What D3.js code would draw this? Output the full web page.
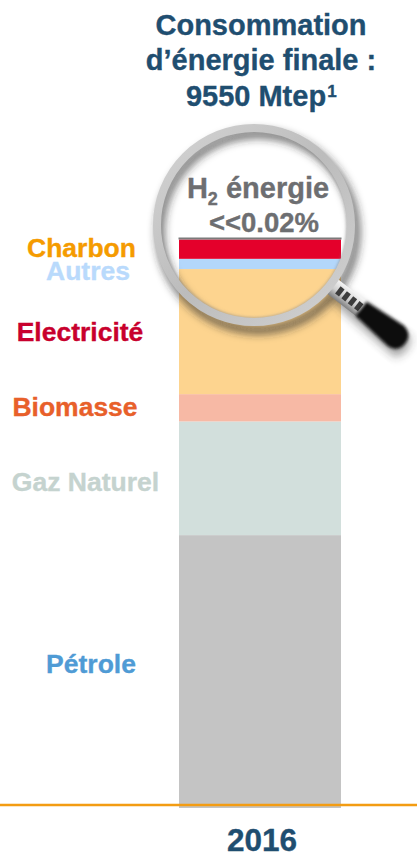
<!DOCTYPE html>
<html>
<head>
<meta charset="utf-8">
<script src="https://cdnjs.cloudflare.com/ajax/libs/d3/7.8.5/d3.min.js"></script>
<style>
  html, body { margin: 0; padding: 0; background: #fff; }
  text { font-family: "Liberation Sans", Arial, sans-serif; font-weight: bold; stroke-width: 0.35px; }
</style>
</head>
<body>
<div id="chart"></div>
<script>
// data (share of final energy, %)
var years = ["2016"];
var sources = ["Pétrole", "Gaz Naturel", "Biomasse", "Charbon", "Autres", "Electricité"];
var shares = [48, 20, 4.8, 22, 1.8, 3.4];
var titleLines = ["Consommation", "d’énergie finale :", "9550 Mtep"];

// fill of each slice and colour of its label
var barColors = ["#c4c4c4", "#d2dfdc", "#f7b9a5", "#fdd48f", "#b3d7fb", "#e4002b"];
var labelColors = ["#4f9bd5", "#c5d3cf", "#e8602a", "#f59b00", "#b9dafc", "#c8002d"];
// labels are placed by hand in the original, they do not follow the slices
var labelX = [91, 85.5, 75, 81.5, 88, 80];
var labelY = [673, 491, 416, 257, 280, 341];

var width = 417, height = 854;

var svg = d3.select("#chart")
  .append("svg")
    .attr("width", width)
    .attr("height", height)
    .style("display", "block");

var defs = svg.append("defs");

var x = d3.scaleBand().domain(years).range([179, 341]);
var y = d3.scaleLinear().domain([0, 100]).range([808, 239.5]);

// stack the slices
var row = {year: years[0]};
sources.forEach(function(s, i) { row[s] = shares[i]; });
var series = d3.stack().keys(sources)([row]);

svg.append("g")
  .selectAll("rect")
  .data(series)
  .enter()
  .append("rect")
    .attr("x", x(years[0]))
    .attr("width", x.bandwidth())
    .attr("y", function(d) { return y(d[0][1]); })
    .attr("height", function(d) { return y(d[0][0]) - y(d[0][1]); })
    .attr("fill", function(d, i) { return barColors[i]; });

// H2 is the thin grey cap on top of the stack
svg.append("line")
  .attr("x1", x(years[0]) - 0.5)
  .attr("x2", x(years[0]) + x.bandwidth() + 0.5)
  .attr("y1", y(100) - 1)
  .attr("y2", y(100) - 1)
  .attr("stroke", "#7b7b7b")
  .attr("stroke-width", 2);

// baseline
svg.append("line")
  .attr("x1", 0)
  .attr("x2", width)
  .attr("y1", 805)
  .attr("y2", 805)
  .attr("stroke", "#f39c12")
  .attr("stroke-width", 2.4);

// year label through the axis
var axis = svg.append("g")
  .attr("transform", "translate(2,820)")
  .call(d3.axisBottom(x).tickSize(0).tickPadding(0));
axis.select(".domain").remove();
axis.selectAll("text")
  .attr("dy", null)
  .attr("y", 31)
  .attr("fill", "#1f4e70")
  .attr("stroke", "#1f4e70")
  .style("font-family", '"Liberation Sans", Arial, sans-serif')
  .style("font-size", "31.5px");

// title
var title = svg.append("g")
  .attr("fill", "#1f4e70")
  .attr("stroke", "#1f4e70")
  .attr("text-anchor", "middle")
  .style("font-size", "29px");
title.selectAll("text")
  .data(titleLines)
  .enter()
  .append("text")
    .attr("x", function(d, i) { return i == 2 ? 256 : 261; })
    .attr("y", function(d, i) { return [35, 70, 106][i]; })
    .text(function(d) { return d; });
title.append("text")
  .attr("x", 332)
  .attr("y", 97)
  .style("font-size", "17px")
  .text("1");

// source labels
svg.append("g")
  .selectAll("text")
  .data(sources)
  .enter()
  .append("text")
    .attr("x", function(d, i) { return labelX[i]; })
    .attr("y", function(d, i) { return labelY[i]; })
    .attr("text-anchor", "middle")
    .attr("fill", function(d, i) { return labelColors[i]; })
    .attr("stroke", function(d, i) { return labelColors[i]; })
    .style("font-size", "26.5px")
    .text(function(d) { return d; });

// magnifying glass
var blur = defs.append("filter").attr("id", "shadow")
  .attr("x", "-30%").attr("y", "-30%").attr("width", "160%").attr("height", "160%");
blur.append("feGaussianBlur").attr("stdDeviation", 4);
var soft = defs.append("filter").attr("id", "soft")
  .attr("x", "-10%").attr("y", "-10%").attr("width", "120%").attr("height", "120%");
soft.append("feGaussianBlur").attr("stdDeviation", 1.8);
var blurGrip = defs.append("filter").attr("id", "gripBlur")
  .attr("x", "-30%").attr("y", "-60%").attr("width", "160%").attr("height", "220%");
blurGrip.append("feGaussianBlur").attr("stdDeviation", 1.8);

var ringGrad = defs.append("linearGradient").attr("id", "ring")
  .attr("x1", 0).attr("y1", 0).attr("x2", 1).attr("y2", 1);
ringGrad.append("stop").attr("offset", "0%").attr("stop-color", "#d4d4d4");
ringGrad.append("stop").attr("offset", "50%").attr("stop-color", "#bcbcbc");
ringGrad.append("stop").attr("offset", "100%").attr("stop-color", "#d2d2d2");

var metalGrad = defs.append("linearGradient").attr("id", "metal")
  .attr("x1", 0).attr("y1", 0).attr("x2", 0).attr("y2", 1);
metalGrad.append("stop").attr("offset", "0%").attr("stop-color", "#f4f4f4");
metalGrad.append("stop").attr("offset", "55%").attr("stop-color", "#cfcfcf");
metalGrad.append("stop").attr("offset", "100%").attr("stop-color", "#808080");

var lensX = 254, lensY = 225, lensR = 97;

var lens = svg.append("g");

// soft shadow of the ring and handle, falls to the lower right
lens.append("circle")
  .attr("cx", lensX + 4).attr("cy", lensY + 7).attr("r", lensR + 1)
  .attr("fill", "none")
  .attr("stroke", "#2a2a2a")
  .attr("stroke-opacity", 0.7)
  .attr("stroke-width", 8)
  .attr("filter", "url(#shadow)");
lens.append("path")
  .attr("transform", "translate(" + (lensX + 3) + "," + (lensY + 8) + ") rotate(38)")
  .attr("d", "M100,-8 L185,-13 Q195,0 185,13 L100,8 Z")
  .attr("fill", "#333")
  .attr("fill-opacity", 0.45)
  .attr("filter", "url(#shadow)");

var handle = lens.append("g")
  .attr("transform", "translate(" + lensX + "," + lensY + ") rotate(38)");
handle.append("rect")
  .attr("x", 100).attr("y", -9).attr("width", 40).attr("height", 18)
  .attr("fill", "url(#metal)");
[106, 114, 122, 130].forEach(function(p) {
  handle.append("rect")
    .attr("x", p).attr("y", -5).attr("width", 5).attr("height", 9)
    .attr("fill", "#3c3c3c");
});
handle.append("path")
  .attr("d", "M136,-9 L180,-13 Q192,-11 192,0 Q192,12 180,13 L136,9 Z")
  .attr("fill", "#0c0c0c")
  .attr("filter", "url(#gripBlur)");

// inner shade, then ring on top
lens.append("circle")
  .attr("cx", lensX).attr("cy", lensY).attr("r", lensR - 3)
  .attr("fill", "none")
  .attr("stroke", "#8a8a8a")
  .attr("stroke-opacity", 0.7)
  .attr("stroke-width", 2.5)
  .attr("filter", "url(#soft)");
lens.append("circle")
  .attr("cx", lensX).attr("cy", lensY).attr("r", lensR)
  .attr("fill", "none")
  .attr("stroke", "url(#ring)")
  .attr("stroke-width", 8);

// text in the lens
var h2 = svg.append("text")
  .attr("x", 258)
  .attr("y", 198)
  .attr("text-anchor", "middle")
  .attr("fill", "#6d6e71")
  .attr("stroke", "#6d6e71")
  .style("font-size", "29px");
h2.append("tspan").text("H");
h2.append("tspan").attr("dy", 7).style("font-size", "18px").text("2");
h2.append("tspan").attr("dy", -7).text(" énergie");

svg.append("text")
  .attr("x", 264)
  .attr("y", 232)
  .attr("text-anchor", "middle")
  .attr("fill", "#6d6e71")
  .attr("stroke", "#6d6e71")
  .style("font-size", "27.5px")
  .text("<<0.02%");
</script>
</body>
</html>
